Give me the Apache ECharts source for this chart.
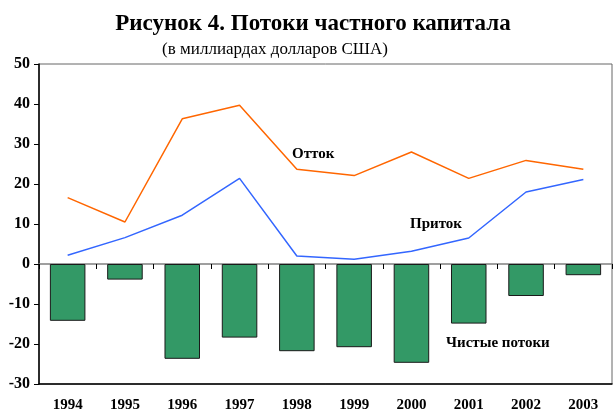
<!DOCTYPE html>
<html>
<head>
<meta charset="utf-8">
<script src="https://cdn.jsdelivr.net/npm/echarts@6/dist/echarts.min.js"></script>
<style>
  html, body { margin: 0; padding: 0; background: #fff; }
  #chart { width: 616px; height: 415px; }
</style>
</head>
<body>
<div id="chart"></div>
<script>
const years = ['1994', '1995', '1996', '1997', '1998', '1999', '2000', '2001', '2002', '2003']
const outflow = [16.6, 10.5, 36.3, 39.7, 23.7, 22.1, 28.0, 21.4, 25.9, 23.7]
const inflow = [2.2, 6.6, 12.2, 21.4, 2.0, 1.2, 3.2, 6.5, 18.0, 21.1]
const netFlows = [-14.2, -3.9, -23.7, -18.4, -21.8, -20.8, -24.7, -14.9, -8.0, -2.8]

const serif = '"Liberation Serif", "Times New Roman", serif'
const chart = echarts.init(document.getElementById('chart'))

let option = {
  animation: false,
  title: [
    {
      text: 'Рисунок 4. Потоки частного капитала',
      left: 308, top: 8, textAlign: 'center',
      textStyle: { fontFamily: serif, fontWeight: 'bold', fontSize: 23, color: '#000' }
    },
    {
      text: '(в миллиардах долларов США)',
      left: 270, top: 36, textAlign: 'center',
      textStyle: { fontFamily: serif, fontWeight: 'normal', fontSize: 17, color: '#000' }
    }
  ],
  grid: {
    left: 39, right: 4, top: 64, bottom: 31,
    show: true, borderColor: '#666', borderWidth: 1
  },
  xAxis: [
    {
      type: 'category',
      data: years,
      axisLine: { onZero: false, lineStyle: { color: '#000', width: 1.5 } },
      axisTick: { show: false },
      axisLabel: { fontFamily: serif, fontWeight: 'bold', fontSize: 15, color: '#000', margin: 14 }
    },
    {
      type: 'category',
      data: years,
      position: 'bottom',
      axisLine: { onZero: true, lineStyle: { color: '#808080', width: 1.5 } },
      axisTick: { show: true, length: 5, lineStyle: { color: '#000' } },
      axisLabel: { show: false }
    }
  ],
  yAxis: {
    type: 'value',
    min: -30, max: 50, interval: 10,
    axisLine: { show: true, lineStyle: { color: '#000', width: 1.5 } },
    axisTick: { show: true, length: 5, lineStyle: { color: '#000' } },
    splitLine: { show: false },
    axisLabel: { fontFamily: serif, fontWeight: 'bold', fontSize: 16, color: '#000', margin: 9 }
  },
  series: [
    {
      name: 'Чистые потоки',
      type: 'bar',
      data: netFlows,
      barCategoryGap: '38%',
      itemStyle: { color: '#339966', borderColor: '#1a1a1a', borderWidth: 1 }
    },
    {
      name: 'Отток',
      type: 'line',
      data: outflow,
      symbol: 'none',
      lineStyle: { color: '#ff6600', width: 1.5 }
    },
    {
      name: 'Приток',
      type: 'line',
      data: inflow,
      symbol: 'none',
      lineStyle: { color: '#3366ff', width: 1.5 }
    }
  ],
  graphic: [
    { type: 'text', left: 292, top: 147, style: { text: 'Отток', font: 'bold 15px ' + serif, fill: '#000' } },
    { type: 'text', left: 410, top: 217, style: { text: 'Приток', font: 'bold 15px ' + serif, fill: '#000' } },
    { type: 'text', left: 446, top: 336, style: { text: 'Чистые потоки', font: 'bold 15px ' + serif, fill: '#000' } }
  ]
}

chart.setOption(option)
</script>
</body>
</html>
